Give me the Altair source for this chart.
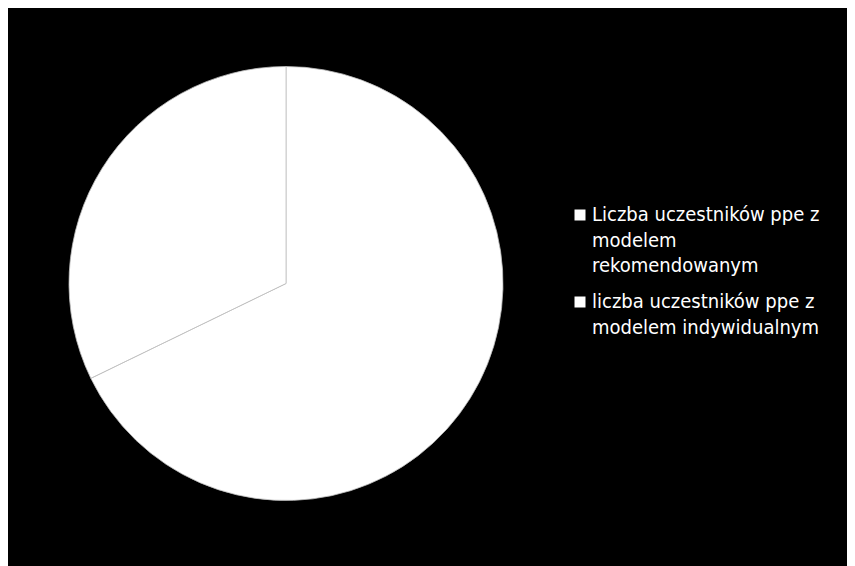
import altair as alt
import pandas as pd

categories = [
    "Liczba uczestników ppe z|modelem|rekomendowanym",
    "liczba uczestników ppe z|modelem indywidualnym",
]
values = [67.8, 32.2]
order = [0, 1]
colors = ["#ffffff", "#ffffff"]

df = pd.DataFrame({"kategoria": categories, "wartosc": values, "kolejnosc": order})

chart = (
    alt.Chart(df)
    .mark_arc(radius=217, stroke="#bfbfbf", strokeWidth=0.8)
    .encode(
        theta=alt.Theta("wartosc:Q", stack=True),
        order=alt.Order("kolejnosc:Q"),
        color=alt.Color(
            "kategoria:N",
            sort=categories,
            scale=alt.Scale(domain=categories, range=colors),
            legend=alt.Legend(
                title=None,
                orient="none",
                legendX=562,
                legendY=197,
                symbolType="square",
                symbolSize=121,
                symbolStrokeWidth=0,
                symbolFillColor="#ffffff",
                labelColor="#ffffff",
                labelFont="DejaVu Sans Condensed",
                labelFontSize=20,
                labelLimit=400,
                labelExpr="split(datum.label, '|')",
                labelOffset=2,
                rowPadding=16,
            ),
        ),
    )
    .properties(
        width=556,
        height=551,
        autosize=alt.AutoSizeParams(type="none"),
        padding={"left": 0, "top": 0, "right": 283, "bottom": 7},
        background="#000000",
    )
    .configure(style={"guide-label": {"lineHeight": 25.5}})
    .configure_view(stroke=None)
)

chart.save("out.html", embed_options={"renderer": "svg", "actions": False})
